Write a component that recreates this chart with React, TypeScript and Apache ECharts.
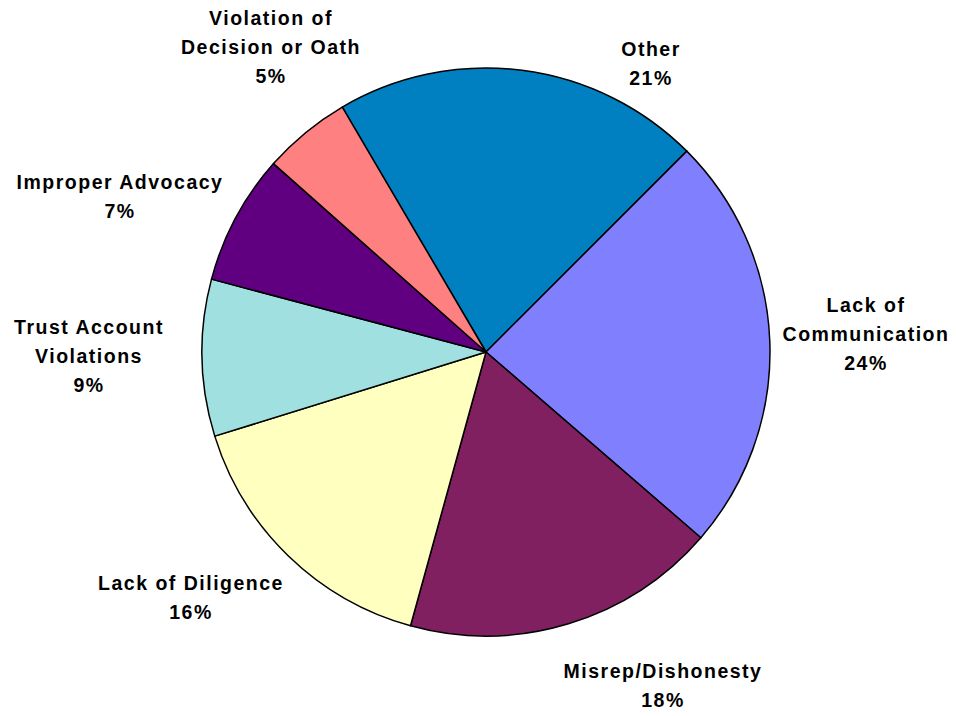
import React, { useEffect, useRef } from "react";
import * as echarts from "echarts";

const categories = [
  "Other",
  "Lack of\nCommunication",
  "Misrep/Dishonesty",
  "Lack of Diligence",
  "Trust Account\nViolations",
  "Improper Advocacy",
  "Violation of\nDecision or Oath",
];
const values = [20.9, 23.8, 17.9, 15.9, 8.9, 7.4, 5.0];
const colors = ["#0080C0", "#8080FF", "#802060", "#FFFFC0", "#A0E0E0", "#600080", "#FF8080"];
// label centre positions (layout)
const labelPos: [number, number][] = [
  [651, 63],
  [866, 334],
  [663, 685],
  [191, 597],
  [89, 356],
  [120, 196],
  [271, 47],
];

export default function App() {
  const ref = useRef<HTMLDivElement>(null);
  useEffect(() => {
    if (!ref.current) return;
    const chart = echarts.init(ref.current, undefined, { renderer: "svg" });
    chart.setOption({
      animation: false,
      backgroundColor: "#ffffff",
      series: [
        {
          type: "pie",
          center: [486, 352],
          radius: 284,
          startAngle: 120.4,
          clockwise: true,
          avoidLabelOverlap: false,
          data: categories.map((name, i) => ({
            name,
            value: values[i],
            itemStyle: { color: colors[i] },
          })),
          itemStyle: { borderColor: "#000000", borderWidth: 1.5 },
          label: {
            show: true,
            position: "outside",
            formatter: (p: any) => `${p.name}\n${Math.round(p.percent)}%`,
            fontFamily: "Liberation Sans, Arial, sans-serif",
            fontWeight: "bold",
            fontSize: 19.5,
            lineHeight: 29,
            color: "#000000",
            align: "center",
          },
          labelLine: { show: false },
          labelLayout: (params: any) => ({
            x: labelPos[params.dataIndex][0],
            y: labelPos[params.dataIndex][1],
            align: "center",
            verticalAlign: "middle",
          }),
          emphasis: { disabled: true },
        },
      ],
    });
    const applySpacing = () => {
      ref.current?.querySelectorAll("text").forEach((t) => {
        (t as SVGTextElement).style.letterSpacing = "1.5px";
      });
    };
    applySpacing();
    chart.on("finished", applySpacing);
    return () => chart.dispose();
  }, []);
  return (
    <div
      ref={ref}
      style={{ position: "fixed", left: 0, top: 0, width: 956, height: 716 }}
    />
  );
}
